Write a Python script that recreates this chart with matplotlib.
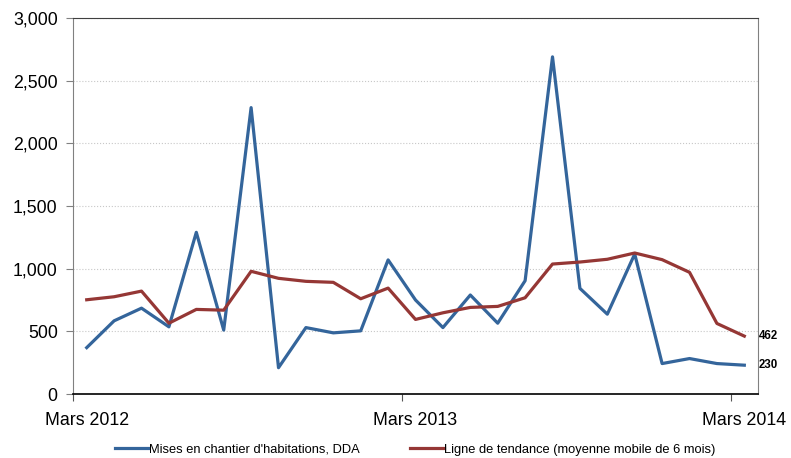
import matplotlib.pyplot as plt

plt.rcParams['font.family'] = ['Liberation Sans', 'DejaVu Sans']

# mois de mars 2012 à mars 2014
mois = list(range(25))
mises_en_chantier = [370, 584, 685, 536, 1290, 510, 2285, 210, 530, 488, 504, 1070,
                     750, 530, 790, 565, 904, 2690, 843, 637, 1117, 243, 283, 243, 230]
tendance = [752, 776, 821, 565, 675, 669, 979, 923, 899, 891, 760, 845,
            595, 648, 691, 699, 768, 1037, 1053, 1075, 1125, 1072, 971, 563, 462]
tick_pos = [-0.5, 11.5, 23.5]
label_pos = [0, 12, 24]
tick_labels = ['Mars 2012', 'Mars 2013', 'Mars 2014']

fig = plt.figure(figsize=(7.91, 4.58), dpi=100)
ax = fig.add_axes([0.0923, 0.1397, 0.8660, 0.8210])

bleu = '#34659b'
rouge = '#953735'
ax.plot(mois, mises_en_chantier, color=bleu, lw=2.3, label="Mises en chantier d'habitations, DDA")
ax.plot(mois, tendance, color=rouge, lw=2.3, label='Ligne de tendance (moyenne mobile de 6 mois)')

ax.text(24.52, tendance[-1], str(tendance[-1]), fontsize=8.3, fontweight='bold', va='center', ha='left')
ax.text(24.52, mises_en_chantier[-1], str(mises_en_chantier[-1]), fontsize=8.3, fontweight='bold',
        va='center', ha='left')

ax.set_xlim(-0.5, 24.5)
ax.set_ylim(0, 3000)
ax.set_yticks(range(0, 3001, 500))
ax.set_yticklabels([f'{v:,}' for v in range(0, 3001, 500)])
# graduations entre les mois, libellés centrés sur le mois de mars
ax.set_xticks(tick_pos)
ax.set_xticklabels([])
ax.set_xticks(label_pos, minor=True)
ax.set_xticklabels(tick_labels, minor=True)
ax.tick_params(axis='both', which='both', labelsize=12.8, colors='black')
ax.tick_params(axis='y', direction='out', length=5, color='#808080', pad=6)
ax.tick_params(axis='x', which='major', direction='out', length=5, color='#555555')
ax.tick_params(axis='x', which='minor', length=0, pad=13)

ax.grid(axis='y', linestyle=':', color='#c8c8c8', lw=0.8)
ax.set_axisbelow(True)
ax.spines['left'].set_color('#808080')
ax.spines['bottom'].set_color('black')
ax.spines['bottom'].set_linewidth(1.2)
ax.spines['top'].set_color('#404040')
ax.spines['right'].set_color('#808080')

fig.legend(loc='center', bbox_to_anchor=(0.525, 0.018), ncol=2, frameon=False, fontsize=9.3,
           handlelength=2.6, handletextpad=0.05, columnspacing=3.9)

fig.savefig('out.png', dpi=100)
